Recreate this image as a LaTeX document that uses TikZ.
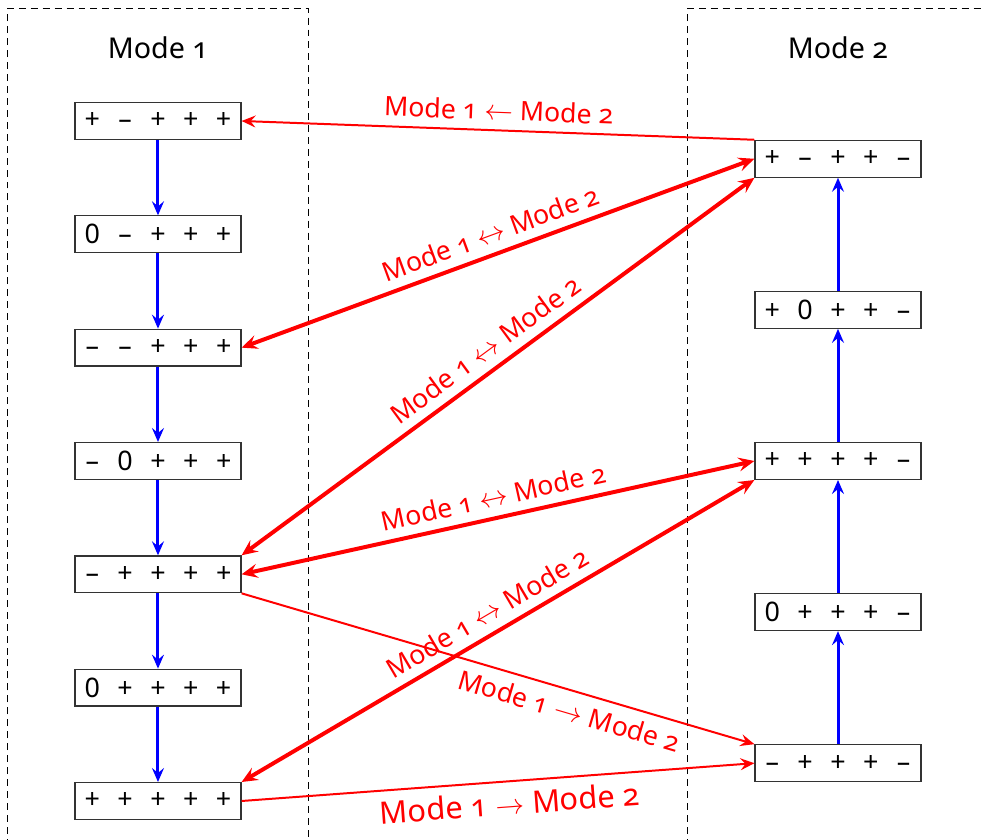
\documentclass[tikz,border=0pt]{standalone}
\usepackage{fontspec}
\setmainfont{Noto Sans}[Numbers=OldStyle]
\newfontfamily\signfont{Noto Sans}[Numbers=Lining]
\usetikzlibrary{arrows.meta}

% one row of five signs, evenly spaced
\newcommand{\signs}[5]{\signfont\makebox[16.5pt]{#1}\makebox[16.5pt]{#2}\makebox[16.5pt]{#3}\makebox[16.5pt]{#4}\makebox[16.5pt]{#5}}

\tikzset{
  state/.style={draw=black!80, line width=0.6pt, inner sep=0pt, minimum width=2.93cm, minimum height=0.65cm, font=\fontsize{13.5}{15}\selectfont},
  modebox/.style={dash pattern=on 3.5pt off 2.5pt, line width=0.5pt},
  title/.style={font=\fontsize{14.4}{17}\selectfont},
  step down/.style={blue, line width=1.5pt, -{Stealth[length=7pt, width=6pt, inset=2.5pt]}},
  switch/.style={red, line width=1pt, -{Stealth[length=7pt, width=6pt, inset=2.5pt]}},
  swap/.style={red, line width=2pt, {Stealth[length=8pt, width=7pt, inset=3pt]}-{Stealth[length=8pt, width=7pt, inset=3pt]}},
  lbl/.style={red, sloped, inner sep=4.5pt, font=\fontsize{13.4}{15}\selectfont}
}

\begin{document}
\begin{tikzpicture}

  \useasboundingbox (-2.788,-0.671) rectangle (14.541,14.135);

  \draw[modebox] (-2.65,-1) rectangle (2.65,13.99);
  \draw[modebox] (9.35,-1) rectangle (15,13.99);

  \node[title] (t1) at (0,13.3) {Mode 1};
  \node[title] (t2) at (12,13.3) {Mode 2};

  % mode 1 states
  \node[state] (L1) at (0,12) {\signs{+}{–}{+}{+}{+}};
  \node[state] (L2) at (0,10) {\signs{0}{–}{+}{+}{+}};
  \node[state] (L3) at (0,8)  {\signs{–}{–}{+}{+}{+}};
  \node[state] (L4) at (0,6)  {\signs{–}{0}{+}{+}{+}};
  \node[state] (L5) at (0,4)  {\signs{–}{+}{+}{+}{+}};
  \node[state] (L6) at (0,2)  {\signs{0}{+}{+}{+}{+}};
  \node[state] (L7) at (0,0)  {\signs{+}{+}{+}{+}{+}};

  % mode 2 states
  \node[state] (R1) at (12,11.333) {\signs{+}{–}{+}{+}{–}};
  \node[state] (R2) at (12,8.667)  {\signs{+}{0}{+}{+}{–}};
  \node[state] (R3) at (12,6)      {\signs{+}{+}{+}{+}{–}};
  \node[state] (R4) at (12,3.333)  {\signs{0}{+}{+}{+}{–}};
  \node[state] (R5) at (12,0.667)  {\signs{–}{+}{+}{+}{–}};

  \draw[step down] (L1) -- (L2);
  \draw[step down] (L2) -- (L3);
  \draw[step down] (L3) -- (L4);
  \draw[step down] (L4) -- (L5);
  \draw[step down] (L5) -- (L6);
  \draw[step down] (L6) -- (L7);

  \draw[step down] (R5) -- (R4);
  \draw[step down] (R4) -- (R3);
  \draw[step down] (R3) -- (R2);
  \draw[step down] (R2) -- (R1);

  % switching between the modes
  \draw[switch] (R1.north west) -- node[lbl, midway, above] {Mode 1 $\leftarrow$ Mode 2} (L1.east);

  \draw[swap] (L3.east) -- node[lbl, midway, above] {Mode 1 $\leftrightarrow$ Mode 2} (R1.west);
  \draw[swap] (L5.north east) -- node[lbl, midway, above] {Mode 1 $\leftrightarrow$ Mode 2} (R1.south west);
  \draw[swap] (L5.east) -- node[lbl, midway, above] {Mode 1 $\leftrightarrow$ Mode 2} (R3.west);
  \draw[swap] (L7.north east) -- node[lbl, midway, above] {Mode 1 $\leftrightarrow$ Mode 2} (R3.south west);

  \draw[switch] (L5.south east) -- node[lbl, pos=0.65, below] {Mode 1 $\rightarrow$ Mode 2} (R5.north west);
  \draw[switch] (L7.east) -- node[lbl, pos=0.52, below, font=\fontsize{15.5}{17}\selectfont] {Mode 1 $\rightarrow$ Mode 2} (R5.west);

\end{tikzpicture}
\end{document}
